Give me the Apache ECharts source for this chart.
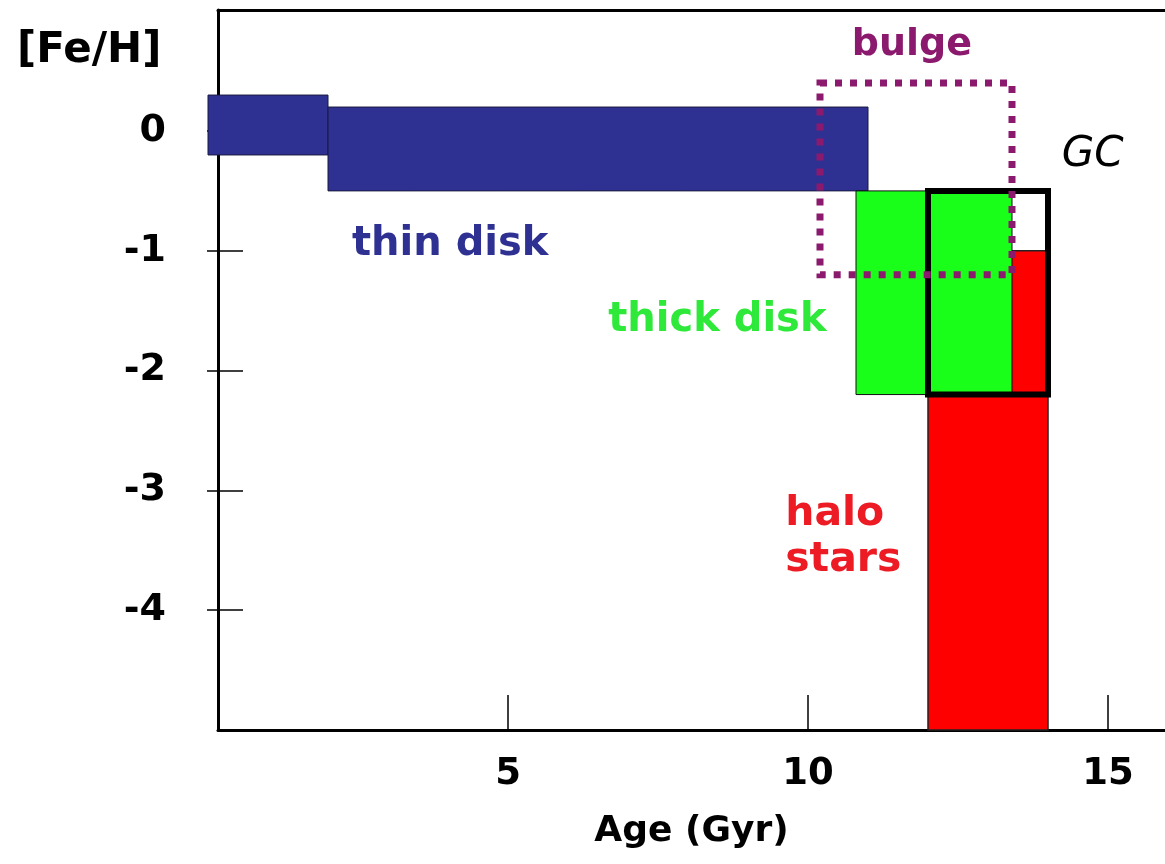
<!DOCTYPE html>
<html>
<head>
<meta charset="utf-8">
<script src="https://cdn.jsdelivr.net/npm/echarts@6/dist/echarts.min.js"></script>
<style>
  html, body { margin: 0; padding: 0; background: #fff; }
  #main { width: 1165px; height: 864px; }
</style>
</head>
<body>
<div id="main"></div>
<script>
// axis ticks
var ageTicks = [5, 10, 15];
var fehTicks = [0, -1, -2, -3, -4];

// boxes: [age from, age to, [Fe/H] low, [Fe/H] high]
var thinDisk = [[0, 2, -0.2, 0.3], [2, 11, -0.5, 0.2]];
var haloStars = [[12, 14, -5, -1]];
var thickDisk = [[10.8, 12, -2.2, -0.5], [12, 13.4, -2.2, -0.5]];
var globularClusters = [[12, 14, -2.2, -0.5]];
var bulge = [[10.2, 13.4, -1.2, 0.4]];

// annotation texts and where they sit (age, [Fe/H])
var noteText = ['thin disk', 'thick disk', 'bulge', 'GC', 'halo\nstars'];
var noteAge = [2.4, 6.67, 10.73, 14.23, 9.62];
var noteFeH = [-0.95, -1.58, 0.72, -0.2, -3.39];

var FONT = '"DejaVu Sans", sans-serif';

// renderItem for a box, style given by caller
function boxRender(style) {
    return function (params, api) {
        var p0 = api.coord([api.value(0), api.value(3)]);
        var p1 = api.coord([api.value(1), api.value(2)]);
        return {
            type: 'rect',
            shape: { x: p0[0], y: p0[1], width: p1[0] - p0[0], height: p1[1] - p0[1] },
            style: style
        };
    };
}

function boxSeries(name, data, style, z) {
    return {
        name: name,
        type: 'custom',
        data: data,
        clip: false,
        z: z,
        silent: true,
        encode: { x: [0, 1], y: [2, 3] },
        renderItem: boxRender(style)
    };
}

var noteStyles = [
    { fill: '#2e3192', fontWeight: 'bold', fontSize: 40 },
    { fill: '#2ee83a', fontWeight: 'bold', fontSize: 40 },
    { fill: '#8b1a6e', fontWeight: 'bold', fontSize: 38 },
    { fill: '#000', fontStyle: 'italic', fontSize: 42 },
    { fill: '#ec1b24', fontWeight: 'bold', fontSize: 41, lineHeight: 46 }
];

var notes = noteText.map(function (t, i) {
    return [noteAge[i], noteFeH[i], i];
});

var myChart = echarts.init(document.getElementById('main'));

var option = {
    animation: false,
    backgroundColor: '#fff',
    grid: { left: 218, right: 0, top: 10, bottom: 134 },
    graphic: [{
        type: 'text',
        left: 17,
        top: 30,
        style: { text: '[Fe/H]', fill: '#000', font: 'bold 42px ' + FONT }
    }],
    xAxis: [{
        type: 'value',
        position: 'bottom',
        min: 1 / 6,
        max: 15.95,
        axisLine: { show: true, onZero: false, lineStyle: { color: '#000', width: 3 } },
        axisTick: { show: true, inside: true, length: 35, customValues: ageTicks, lineStyle: { color: '#000', width: 1.5 } },
        axisLabel: { show: true, customValues: ageTicks, margin: 26, color: '#000', fontSize: 37, fontWeight: 'bold', fontFamily: FONT },
        splitLine: { show: false },
        name: 'Age (Gyr)',
        nameLocation: 'middle',
        nameGap: 84,
        nameTextStyle: { color: '#000', fontSize: 36, fontWeight: 'bold', fontFamily: FONT }
    }, {
        type: 'value',
        position: 'top',
        min: 1 / 6,
        max: 15.95,
        axisLine: { show: true, onZero: false, lineStyle: { color: '#000', width: 3 } },
        axisTick: { show: false },
        axisLabel: { show: false },
        splitLine: { show: false }
    }],
    yAxis: [{
        type: 'value',
        position: 'left',
        min: -5,
        max: 1.01,
        axisLine: { show: true, onZero: false, lineStyle: { color: '#000', width: 3 } },
        axisTick: { show: true, inside: false, length: 11, customValues: fehTicks, lineStyle: { color: '#000', width: 1.5 } },
        axisLabel: { show: true, customValues: fehTicks, margin: 52, color: '#000', fontSize: 38, fontWeight: 'bold', fontFamily: FONT },
        splitLine: { show: false }
    }, {
        type: 'value',
        position: 'left',
        min: -5,
        max: 1.01,
        axisLine: { show: false },
        axisTick: { show: true, inside: true, length: 25, customValues: fehTicks, lineStyle: { color: '#000', width: 1.5 } },
        axisLabel: { show: false },
        splitLine: { show: false }
    }],
    series: [
        boxSeries('thin disk', thinDisk, { fill: '#2e3192', stroke: '#1a1a40', lineWidth: 1 }, 3),
        boxSeries('halo stars', haloStars, { fill: '#ff0000', stroke: '#222', lineWidth: 1.5 }, 3),
        boxSeries('thick disk', thickDisk, { fill: '#19ff19', stroke: '#111', lineWidth: 1 }, 4),
        boxSeries('GC', globularClusters, { fill: 'none', stroke: '#000', lineWidth: 6 }, 5),
        boxSeries('bulge', bulge, { fill: 'none', stroke: '#8b1a6e', lineWidth: 7, lineDash: [7, 8], lineCap: 'butt' }, 6),
        {
            name: 'notes',
            type: 'custom',
            data: notes,
            clip: false,
            z: 7,
            silent: true,
            encode: { x: 0, y: 1 },
            renderItem: function (params, api) {
                var pt = api.coord([api.value(0), api.value(1)]);
                var i = api.value(2);
                var s = noteStyles[i];
                return {
                    type: 'text',
                    x: pt[0],
                    y: pt[1],
                    style: {
                        text: noteText[i],
                        fill: s.fill,
                        fontSize: s.fontSize,
                        fontWeight: s.fontWeight || 'normal',
                        fontStyle: s.fontStyle || 'normal',
                        fontFamily: FONT,
                        lineHeight: s.lineHeight,
                        align: 'left',
                        verticalAlign: 'middle'
                    }
                };
            }
        }
    ]
};

myChart.setOption(option);
</script>
</body>
</html>
